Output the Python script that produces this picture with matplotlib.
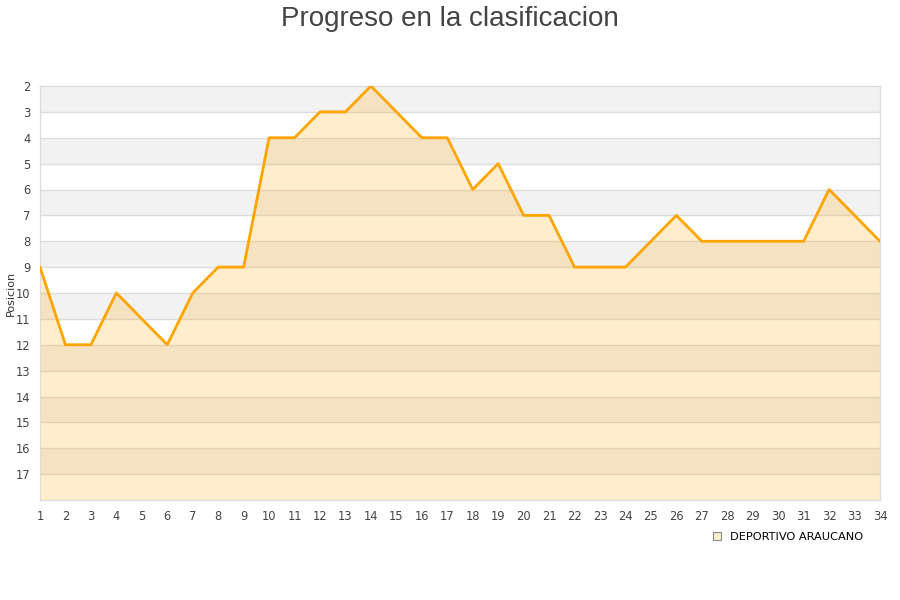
import matplotlib
matplotlib.use("Agg")
import matplotlib.pyplot as plt
from matplotlib.lines import Line2D

jornadas = list(range(1, 35))
posiciones = [9, 12, 12, 10, 11, 12, 10, 9, 9, 4, 4, 3, 3, 2, 3, 4, 4, 6, 5, 7,
              7, 9, 9, 9, 8, 7, 8, 8, 8, 8, 8, 6, 7, 8]
equipo = "DEPORTIVO ARAUCANO"
y_ticks = list(range(2, 18))

fig = plt.figure(figsize=(9, 6), dpi=100)
ax = fig.add_axes([40/900, 100/600, 840/900, 414/600])

# bandas alternas
for y0 in range(2, 18, 2):
    ax.axhspan(y0, y0 + 1, color='#F2F2F2', zorder=0, lw=0)
for y in range(3, 18):
    ax.axhline(y, color='#DDDDDD', lw=1, zorder=1)

ax.fill_between(jornadas, posiciones, 18, color='#FFA500', alpha=0.2, lw=0, zorder=2)
ax.plot(jornadas, posiciones, color='#FFA500', lw=2, zorder=3)

ax.set_xlim(1, 34)
ax.set_ylim(18, 2)
ax.set_xticks(jornadas)
ax.set_yticks(y_ticks)
ax.tick_params(length=0, labelsize=8.3, colors='#444444', pad=7)
ax.tick_params(axis='x', pad=7)
for s in ax.spines.values():
    s.set_color('#DDDDDD')
    s.set_linewidth(1)

ax.set_ylabel('Posicion', fontsize=8, color='#333333')
ax.yaxis.set_label_coords(-0.029, 0.5)

fig.text(0.5, 0.99, 'Progreso en la clasificacion', ha='center', va='top',
         fontsize=20, color='#444444', family='Liberation Sans')

handle = Line2D([], [], marker='s', linestyle='none', markersize=6,
                markerfacecolor='#FFEDCC', markeredgecolor='#888888', markeredgewidth=0.8)
fig.legend([handle], [equipo], loc='center right', bbox_to_anchor=(0.97, 0.105),
           frameon=False, fontsize=8.2, handletextpad=0.6, handlelength=1)

fig.savefig('out.png', dpi=100, facecolor='white')
